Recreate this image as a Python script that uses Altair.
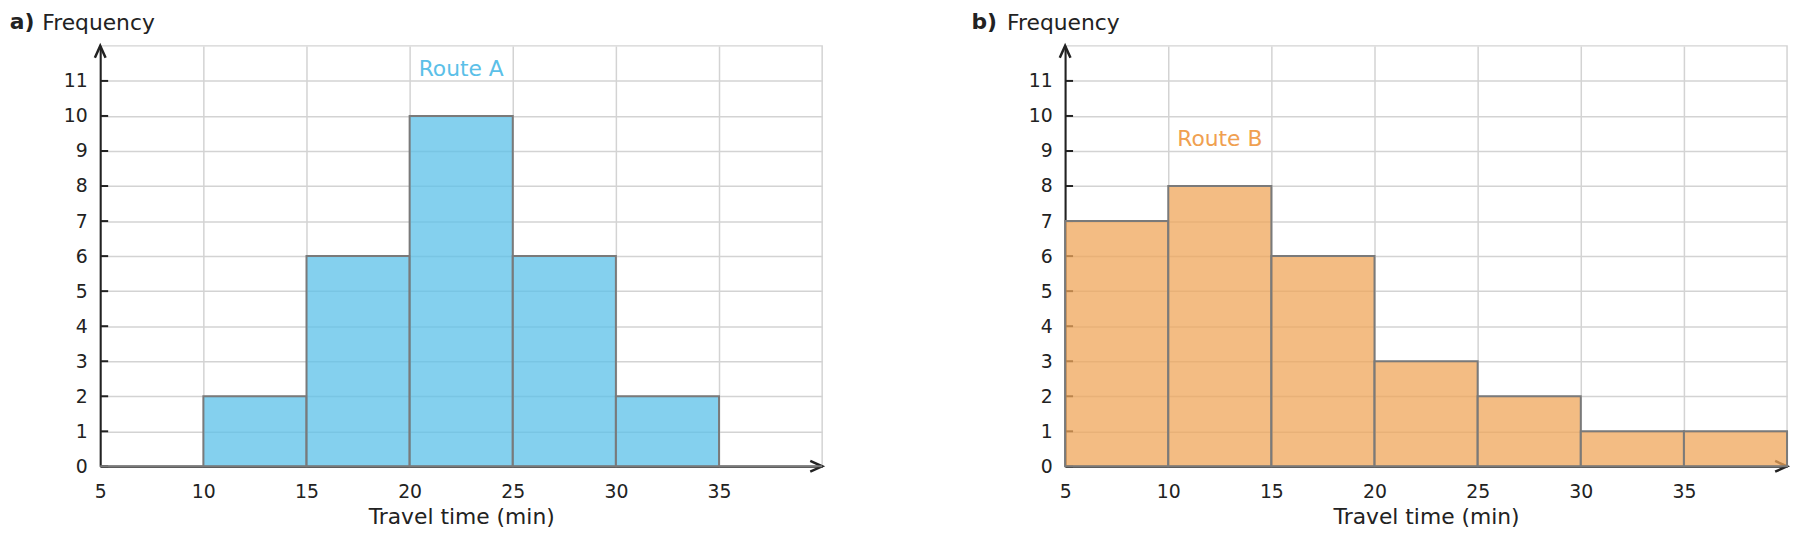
import altair as alt
import pandas as pd

bin_starts = [5, 10, 15, 20, 25, 30, 35]
bin_ends = [10, 15, 20, 25, 30, 35, 40]
route_a = [0, 2, 6, 10, 6, 2, 0]
route_b = [7, 8, 6, 3, 2, 1, 1]
x_ticks = [5, 10, 15, 20, 25, 30, 35]
y_ticks = [0, 1, 2, 3, 4, 5, 6, 7, 8, 9, 10, 11]
x_domain = [5, 40]
y_domain = [0, 12]

FONT = "DejaVu Sans"
INK = "#222222"

xs = alt.Scale(domain=x_domain, nice=False, zero=False)
ys = alt.Scale(domain=y_domain, nice=False)
x_axis = alt.Axis(values=x_ticks, title="Travel time (min)", ticks=False,
                  labelFlush=False, labelPadding=16, titlePadding=6)
y_axis = alt.Axis(values=y_ticks, title="Frequency", ticks=False, labelPadding=13,
                  labelFlush=False, titleAngle=0, titleX=-59, titleY=-17,
                  titleAlign="left", titleBaseline="alphabetic")


def panel(counts, letter, name, bar_color, text_color, letter_x):
    bars = pd.DataFrame({"start": bin_starts, "end": bin_ends, "count": counts})
    peak = bars.loc[bars["count"].idxmax()]
    label = pd.DataFrame({
        "x": [(peak["start"] + peak["end"]) / 2],
        "y": [peak["count"] + 1],
        "name": [name],
    })

    ticks = alt.Chart(pd.DataFrame({"tick": y_ticks})).mark_rule(
        color=INK, strokeWidth=2
    ).encode(
        x=alt.value(0), x2=alt.value(8),
        y=alt.Y("tick:Q", scale=ys, axis=y_axis),
    )
    x_arrow = alt.Chart(pd.DataFrame({"x": [x_domain[1]], "y": [y_domain[0]]})).mark_point(
        shape="M-1,-0.45L0,0L-1,0.45", filled=False, size=576,
        strokeWidth=2.5, color=INK, opacity=1,
    ).encode(x=alt.X("x:Q", scale=xs, axis=x_axis), y=alt.Y("y:Q", scale=ys, axis=y_axis))
    y_arrow = alt.Chart(pd.DataFrame({"x": [x_domain[0]], "y": [y_domain[1]]})).mark_point(
        shape="M-0.45,1L0,0L0.45,1", filled=False, size=576,
        strokeWidth=2.5, color=INK, opacity=1,
    ).encode(x=alt.X("x:Q", scale=xs, axis=x_axis), y=alt.Y("y:Q", scale=ys, axis=y_axis))

    rects = alt.Chart(bars).mark_rect(
        fill=bar_color, fillOpacity=0.75, stroke="#7a7a7a", strokeWidth=2
    ).encode(
        x=alt.X("start:Q", scale=xs, axis=x_axis),
        x2="end:Q",
        y=alt.Y("count:Q", scale=ys, axis=y_axis),
        y2=alt.datum(0),
    )
    text = alt.Chart(label).mark_text(
        font=FONT, fontSize=22, color=text_color, baseline="alphabetic", dy=-5
    ).encode(
        x=alt.X("x:Q", scale=xs, axis=x_axis),
        y=alt.Y("y:Q", scale=ys, axis=y_axis),
        text="name:N",
    )
    # panel letter, set beside the axis title "Frequency"
    tag = alt.Chart(pd.DataFrame({"tag": [letter]})).mark_text(
        font=FONT, fontSize=22, fontWeight="bold", color=INK,
        align="left", baseline="alphabetic",
    ).encode(x=alt.value(letter_x), y=alt.value(-17), text="tag:N")
    return alt.layer(ticks, x_arrow, y_arrow, rects, text, tag).properties(
        width=728, height=424,
    )


left = panel(route_a, "a)", "Route A", "#5BC0E8", "#5BC0E8", -91.3)
right = panel(route_b, "b)", "Route B", "#EFA65A", "#F0A050", -94.5)

chart = alt.hconcat(left, right, spacing=143).properties(
    padding=0
).configure(font=FONT).configure_view(
    stroke="#d3d3d3", strokeWidth=1.5
).configure_axis(
    domainColor=INK, domainWidth=2, gridColor="#d3d3d3", gridWidth=1.5,
    labelFont=FONT, labelFontSize=19, labelColor=INK,
    titleFont=FONT, titleFontSize=22, titleColor=INK, titleFontWeight="normal",
)

chart.save("out.html", embed_options={"renderer": "svg", "actions": False})
